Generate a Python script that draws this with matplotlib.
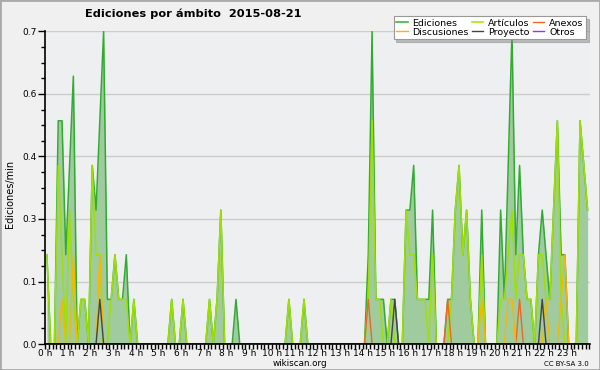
import numpy as np
import matplotlib
matplotlib.use("Agg")
import matplotlib.pyplot as plt
from matplotlib.ticker import FixedLocator, MultipleLocator, FuncFormatter, AutoMinorLocator
from matplotlib.patches import Rectangle

plt.rcParams['font.family'] = ['DejaVu Sans']

# edits per minute, one value per 10-minute bin (144 bins, 00:00 .. 23:50)
ediciones = [
    0.2, 0, 0, 0.5, 0.5, 0.2, 0.4, 0.6, 0, 0.1, 0.1, 0, 0.4, 0.3, 0.5, 0.7, 0.1, 0.1, 0.2, 0.1, 0.1, 0.2, 0, 0.1,
    0, 0, 0, 0, 0, 0, 0, 0, 0, 0.1, 0, 0, 0.1, 0, 0, 0, 0, 0, 0, 0.1, 0, 0.1, 0.3, 0, 0, 0,
    0.1, 0, 0, 0, 0, 0, 0, 0, 0, 0, 0, 0, 0, 0, 0.1, 0, 0, 0, 0.1, 0, 0, 0, 0, 0,
    0, 0, 0, 0, 0, 0, 0, 0, 0, 0, 0, 0.2, 0.7, 0.1, 0.1, 0.1, 0, 0.1, 0.1, 0, 0, 0.3, 0.3, 0.4,
    0.1, 0.1, 0.1, 0.1, 0.3, 0, 0, 0, 0.1, 0.1, 0.3, 0.4, 0.2, 0.3, 0.1, 0, 0, 0.3, 0, 0, 0, 0, 0.3, 0.1,
    0.4, 0.7, 0.2, 0.4, 0.2, 0.1, 0.1, 0, 0.2, 0.3, 0.2, 0.1, 0.3, 0.5, 0.2, 0.2, 0, 0, 0, 0.5, 0.4, 0.3,
]
articulos = [
    0.2, 0, 0, 0.4, 0.2, 0, 0.3, 0.1, 0, 0.1, 0.1, 0, 0.4, 0.2, 0.2, 0, 0, 0.1, 0.2, 0.1, 0.1, 0.1, 0, 0.1,
    0, 0, 0, 0, 0, 0, 0, 0, 0, 0.1, 0, 0, 0.1, 0, 0, 0, 0, 0, 0, 0.1, 0, 0.1, 0.3, 0, 0, 0,
    0, 0, 0, 0, 0, 0, 0, 0, 0, 0, 0, 0, 0, 0, 0.1, 0, 0, 0, 0.1, 0, 0, 0, 0, 0,
    0, 0, 0, 0, 0, 0, 0, 0, 0, 0, 0, 0.1, 0.5, 0.1, 0.1, 0, 0, 0.1, 0, 0, 0, 0.3, 0.2, 0.2,
    0.1, 0.1, 0.1, 0, 0.2, 0, 0, 0, 0, 0.1, 0.3, 0.4, 0.2, 0.3, 0.1, 0, 0, 0.2, 0, 0, 0, 0, 0.1, 0.1,
    0.2, 0.3, 0.1, 0.2, 0.2, 0.1, 0.1, 0, 0.2, 0.2, 0.1, 0.1, 0.3, 0.5, 0.1, 0, 0, 0, 0, 0.5, 0.4, 0.3,
]
anexos = [0] * 144
anexos[85] = 0.1
anexos[106] = 0.1
anexos[125] = 0.1
discusiones = [0] * 144
discusiones[4] = 0.1
discusiones[7] = 0.2
discusiones[14] = 0.2
discusiones[115] = 0.1
discusiones[122] = 0.1
discusiones[123] = 0.1
discusiones[132] = 0.1
discusiones[136] = 0.1
discusiones[137] = 0.2
proyecto = [0] * 144
proyecto[14] = 0.1
proyecto[92] = 0.1
proyecto[131] = 0.1
otros = [0] * 144

hour_labels = [f"{h} h" for h in range(24)]
y_ticks = [0, 0.14, 0.28, 0.42, 0.56, 0.7]

x = (np.arange(len(ediciones)) + 0.5) / 6.0

W, H = 600, 370
fig = plt.figure(figsize=(6, 3.7), dpi=100, facecolor='#f0f0f0')
ax = fig.add_axes([45 / W, 26 / H, 544.5 / W, 312.5 / H])
ax.set_facecolor('#eeeff0')

ax.fill_between(x, ediciones, 0, color='#9fcb9f', lw=0, zorder=2)
ax.plot(x, ediciones, color='#33aa33', lw=1.1, label='Ediciones', zorder=3)
ax.plot(x, articulos, color='#a0e000', lw=1.1, label='Artículos', zorder=4)
ax.plot(x, anexos, color='#ee6622', lw=1.0, label='Anexos', zorder=5)
ax.plot(x, discusiones, color='#f5b800', lw=1.0, label='Discusiones', zorder=5)
ax.plot(x, proyecto, color='#444444', lw=1.0, label='Proyecto', zorder=6)
ax.plot(x, otros, color='#9933ee', lw=1.0, label='Otros', zorder=1)

ax.set_xlim(0, 24)
ax.set_ylim(0, 0.7)

ax.yaxis.set_major_locator(FixedLocator(y_ticks))
ax.yaxis.set_major_formatter(FuncFormatter(lambda v, p: f"{v:.1f}"))
ax.yaxis.set_minor_locator(AutoMinorLocator(4))
ax.set_xticks(range(24))
ax.set_xticklabels(hour_labels)
ax.xaxis.set_minor_locator(MultipleLocator(1 / 6))

ax.tick_params(axis='y', which='major', length=5, width=1, labelsize=6.5, pad=1, color='black')
ax.tick_params(axis='y', which='minor', length=3, width=1)
ax.tick_params(axis='x', which='major', length=3.5, width=1, labelsize=6.5, pad=0)
ax.tick_params(axis='x', which='minor', length=3.5, width=1)

for s in ['top', 'right']:
    ax.spines[s].set_visible(False)
for s in ['left', 'bottom']:
    ax.spines[s].set_color('black')
    ax.spines[s].set_linewidth(1.2)
    ax.spines[s].set_zorder(10)

ax.grid(axis='y', which='major', color='#cccccc', lw=1, zorder=0)
ax.set_axisbelow(True)

h, l = ax.get_legend_handles_labels()
order = ['Ediciones', 'Discusiones', 'Artículos', 'Proyecto', 'Anexos', 'Otros']
hh = [h[l.index(o)] for o in order]
leg = fig.legend(hh, order, loc='upper right', bbox_to_anchor=(591 / W, 1 - 11 / H),
                 ncol=3, fontsize=6.8, handlelength=1.2, handletextpad=0.5,
                 columnspacing=0.35, labelspacing=0.0, borderpad=0.3,
                 fancybox=False, shadow={'color': '#888888'}, framealpha=1)
leg.get_frame().set_edgecolor('#999999')
leg.get_frame().set_linewidth(0.8)
leg.set_zorder(20)

fig.text(85 / W, 1 - 14 / H, 'Ediciones por ámbito  2015-08-21', fontsize=8.2,
         fontweight='bold', ha='left', va='center')
fig.text(10 / W, 1 - 194 / H, 'Ediciones/min', rotation=90, fontsize=7,
         ha='center', va='center')
fig.text(300 / W, 1 - 363 / H, 'wikiscan.org', fontsize=6.3, ha='center', va='center')
fig.text(589 / W, 1 - 363.5 / H, 'CC BY-SA 3.0', fontsize=5, ha='right', va='center')

fig.patches.append(Rectangle((0, 0), 1, 1, transform=fig.transFigure, fill=False,
                             edgecolor='#aaaaaa', lw=2))

fig.savefig('out.png', dpi=100, facecolor=fig.get_facecolor())
